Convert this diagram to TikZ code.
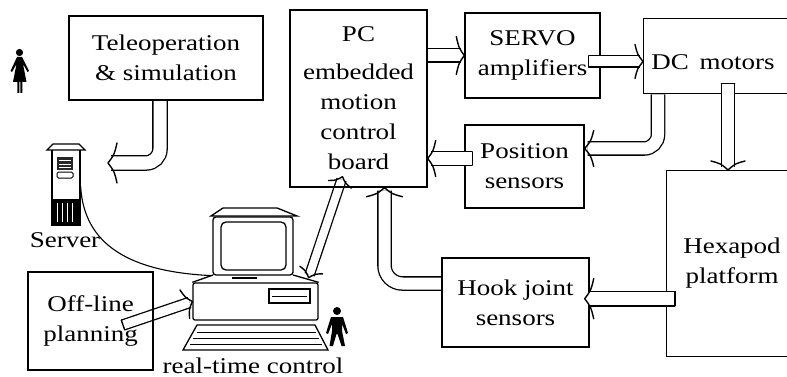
\documentclass[tikz,border=0pt]{standalone}
\usepackage{fontspec}
\setmainfont{Liberation Serif}[FakeStretch=1.2]
\usetikzlibrary{calc}
\pgfdeclarelayer{back}
\pgfsetlayers{back,main}

% open barbed head of a block arrow: tip, a point behind the tip, length, half width
\newcommand\blockhead[4]{%
  \draw[headline]
    ($(#1)!#3!(#2)!#4!90:(#1)$)
    .. controls ($(#1)!0.7*#3!(#2)!0.42*#4!90:(#1)$) .. (#1)
    .. controls ($(#1)!0.7*#3!(#2)!0.42*#4!-90:(#1)$) .. ($(#1)!#3!(#2)!#4!-90:(#1)$);}
% closed tail of a block arrow: start, end, half width
\newcommand\blocktail[3]{%
  \draw[headline] ($(#1)!#3!90:(#2)$) -- ($(#1)!#3!-90:(#2)$);}

\begin{document}
\begin{tikzpicture}[x=1pt,y=-1pt,
  txt/.style={font=\fontsize{22.5}{30}\selectfont},
  box/.style={draw, line width=1.4pt, inner sep=0pt, align=center, txt},
  lbl/.style={inner sep=0pt, align=center, txt},
  % hollow block arrow shaft: a white double line with outlined edges
  fat/.style={double=white, double distance=#1, line width=1.3pt, line cap=butt},
  fat/.default=12pt,
  headline/.style={line width=1.4pt, line join=round, line cap=round},
  icon/.style={line width=1.3pt},
  wire/.style={line width=1.1pt},
]
\useasboundingbox (0,0) rectangle (787,377);

% ---- blocks ----
\node[box, minimum width=194pt, minimum height=84pt] (tele) at (166,58)
  {Teleoperation\\\& simulation};
\node[box, minimum width=137pt, minimum height=177pt] (pc) at (358.5,98.5)
  {PC\\[8pt]embedded\\motion\\control\\board};
\node[box, minimum width=135pt, minimum height=85pt] (servo) at (532.5,55.5)
  {SERVO\\amplifiers};
\node[box, minimum width=170pt, minimum height=75pt, anchor=north west] (dc) at (643,18) {};
\node[lbl] (dctext) at (713,62) {DC\hspace{4pt} motors};
\node[box, minimum width=119pt, minimum height=83pt] (pos) at (524.5,166.5)
  {Position\\sensors};
\node[box, minimum width=150pt, minimum height=186pt, anchor=north west] (hex) at (666,170) {};
\node[lbl] (hextext) at (732,263) {Hexapod\\platform};
\node[box, minimum width=147pt, minimum height=89pt] (hook) at (515.5,302.5)
  {Hook joint\\sensors};
\node[box, minimum width=125pt, minimum height=98pt] (off) at (90.5,321)
  {Off-line\\planning};

% ---- server ----
\node[draw, icon, minimum width=28pt, minimum height=77pt, inner sep=0pt] (srv) at (66,186.5) {};
\draw[icon, fill=white] (47,150) -- (53,144) -- (79,144) -- (85,150) -- cycle;
\fill[black!85] (57,157) rectangle (73,170);
\draw[white, line width=0.6pt] (59,160) -- (71,160) (59,164) -- (71,164) (59,167) -- (71,167);
\draw[line width=1pt, rounded corners=1.5pt] (57,172) rectangle (73,178);
\fill (52,199) rectangle (80,225);
\draw[white, line width=0.5pt] (57,203) -- (57,222) (62,203) -- (62,222) (67,203) -- (67,222) (72,203) -- (72,222);
\node[lbl] (srvlabel) at (65,240) {Server};

% ---- real-time control computer ----
\node[draw, icon, rounded corners=3pt, minimum width=80pt, minimum height=58pt, inner sep=0pt] (mon) at (253,246) {};
\draw[icon, rounded corners=5pt] (221,222) rectangle (286,270);
\draw[icon, fill=white] (211,216) -- (223,208) -- (277,208) -- (297,216) -- cycle;
\node[draw, icon, rounded corners=2pt, minimum width=125pt, minimum height=37pt, inner sep=0pt] (base) at (255.5,301.5) {};
\draw[icon] (213,275) -- (base.north west) (293,275) -- (base.north east);
\draw[icon] (232,278) -- (257,278);
\draw[icon] (269,289) rectangle (310,303);
\draw[line width=1pt] (272,296) -- (307,296);
\draw[icon] (197,325) -- (315,325) -- (328,350) -- (183,350) -- cycle;
\draw[line width=1pt] (197,332) -- (316,332) (193,338) -- (319,338) (190,344) -- (322,344);
\node[lbl] (rtc) at (253,366) {real-time control};

% ---- operators ----
\fill (19.5,52.5) circle (3.6pt);
\fill (17,57) -- (22,57) -- (29,71) -- (27.5,72) -- (23,64) -- (26.5,82)
  -- (13,82) -- (16.5,64) -- (12,72) -- (10.5,71) -- cycle;
\fill (17.3,81) rectangle (19.3,93) (20.3,81) rectangle (22.3,93);
\fill (337,311) circle (4pt);
\fill (331,317) -- (343,317) -- (348,333) -- (346,334) -- (342,324) -- (342,331)
  -- (345,346) -- (341.5,346) -- (337.5,334) -- (336.5,334) -- (333,346)
  -- (329.5,346) -- (332,331) -- (332,324) -- (328,334) -- (326,333) -- cycle;

% ---- connector end points ----
\coordinate (srvtip) at (108,163);
\coordinate (offstart) at (123,325);
\coordinate (a2s) at (pc.east |- servo.west);
\coordinate (a3s) at ([xshift=-12pt,yshift=-6pt]servo.east);
\coordinate (a3e) at (a3s -| dc.west);
\coordinate (a4s) at ([xshift=15pt]dc.south west);
\coordinate (a4e) at ([yshift=18pt]pos.east);
\coordinate (a5s) at ([xshift=85pt,yshift=11pt]dc.south west);
\coordinate (a5e) at (a5s |- hex.north);
\coordinate (a6s) at ([xshift=8pt,yshift=8pt]pos.west);
\coordinate (a6e) at (a6s -| pc.east);
\coordinate (a7s) at ([yshift=19pt]hook.west);
\coordinate (a7e) at ([xshift=26pt]pc.south);
\coordinate (a8s) at ([xshift=9pt,yshift=-35pt]hex.west);
\coordinate (a8e) at ([xshift=-5pt]a8s -| hook.east);
\coordinate (a10a) at ([xshift=-16pt,yshift=11pt]pc.south);
\coordinate (a10b) at ([xshift=15pt,yshift=-2pt]mon.south east);

\draw[wire] (srv.east) .. controls (84,245) and (130,272) .. (mon.south west);

% shafts leaving a block edge sit behind the blocks
\begin{pgfonlayer}{back}
\draw[fat=13pt, shorten >=3pt, rounded corners=14pt] ([xshift=-6pt]tele.south) |- (srvtip);
\draw[fat, shorten >=3pt] (a2s) -- (servo.west);
\draw[fat, shorten >=3pt, rounded corners=14pt] (a4s) |- (a4e);
\draw[fat, shorten >=3pt, rounded corners=18pt] (a7s) -| (a7e);
\draw[fat=9pt, shorten >=3pt] (offstart) -- (base.west);
\draw[fat=8pt, shorten >=3pt, shorten <=3pt] (a10a) -- (a10b);
\end{pgfonlayer}

% shafts starting inside a block cover its edge
\draw[fat=10pt, shorten >=3pt] (a3s) -- (a3e);
\draw[fat, shorten >=3pt] (a5s) -- (a5e);
\draw[fat, shorten >=3pt] (a6s) -- (a6e);
\draw[fat=13pt, shorten >=3pt] (a8s) -- (a8e);

% heads and tails
\blockhead{srvtip}{[xshift=20pt]srvtip}{9pt}{20pt}
\blockhead{servo.west}{a2s}{8pt}{19pt}
\blockhead{a3e}{a3s}{8pt}{17pt}
\blocktail{a3s}{a3e}{5.65pt}
\blockhead{a4e}{[xshift=20pt]a4e}{9pt}{18pt}
\blockhead{a5e}{a5s}{9pt}{17pt}
\blocktail{a5s}{a5e}{6.65pt}
\blockhead{a6e}{a6s}{8pt}{18pt}
\blocktail{a6s}{a6e}{6.65pt}
\blockhead{a7e}{[yshift=-20pt]a7e}{9pt}{18pt}
\blockhead{a8e}{a8s}{9pt}{20pt}
\blocktail{a8s}{a8e}{7.15pt}
\blockhead{base.west}{offstart}{8pt}{15pt}
\blocktail{offstart}{base.west}{5.15pt}
\blockhead{a10b}{a10a}{8pt}{12pt}
\blockhead{a10a}{a10b}{8pt}{12pt}
\end{tikzpicture}
\end{document}
